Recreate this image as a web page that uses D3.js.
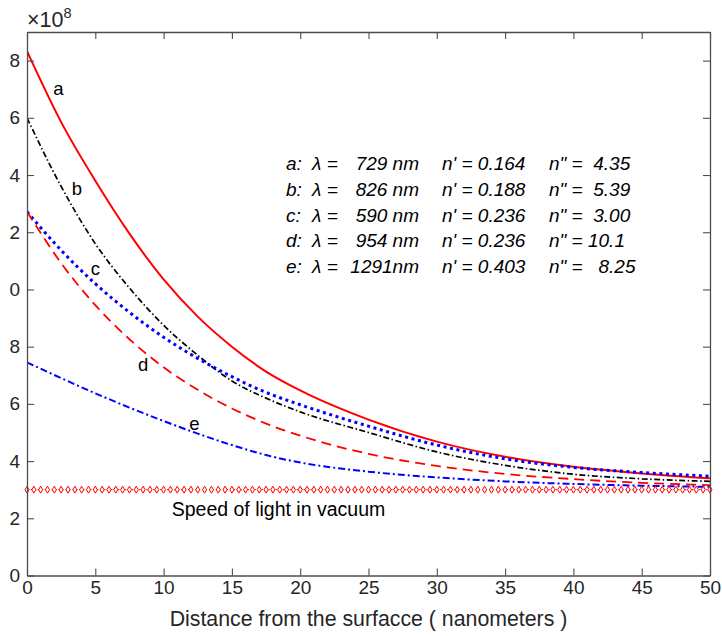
<!DOCTYPE html>
<html>
<head>
<meta charset="utf-8">
<script src="https://cdn.jsdelivr.net/npm/d3@7"></script>
<style>
  html, body { margin: 0; padding: 0; background: #fff; }
  svg { display: block; font-family: "Liberation Sans", Arial, Helvetica, sans-serif; }
</style>
</head>
<body>
<svg id="chart" width="722" height="636"></svg>
<script>
// Distance from the surface (nm) at which each curve was sampled
const distance = [0, 2.5, 5, 7.5, 10, 12.5, 15, 17.5, 20, 25, 30, 35, 40, 45, 50];

// Speed (x 10^8 m/s) for each case
const speedA = [18.33, 15.85, 13.8, 11.95, 10.35, 9.05, 8.0, 7.13, 6.47, 5.45, 4.68, 4.15, 3.80, 3.57, 3.40];
const speedB = [16.0, 13.6, 11.6, 10.05, 8.75, 7.7, 6.8, 6.2, 5.72, 5.0, 4.32, 3.85, 3.54, 3.38, 3.29];
const speedC = [12.72, 11.37, 10.2, 9.2, 8.33, 7.59, 6.95, 6.4, 5.97, 5.22, 4.56, 4.08, 3.78, 3.60, 3.47];
const speedD = [12.72, 10.92, 9.45, 8.26, 7.28, 6.49, 5.84, 5.31, 4.89, 4.25, 3.83, 3.55, 3.37, 3.24, 3.16];
const speedE = [7.45, 6.9, 6.37, 5.87, 5.4, 4.96, 4.56, 4.21, 3.95, 3.63, 3.43, 3.29, 3.20, 3.14, 3.10];

// Speed of light in vacuum (x 10^8 m/s)
const vacuumSpeed = 3.0;

// Case parameters
const caseNames   = ["a", "b", "c", "d", "e"];
const wavelengths = ["729 nm", "826 nm", "590 nm", "954 nm", "1291nm"];
const nPrime      = ["0.164", "0.188", "0.236", "0.236", "0.403"];
const nDouble     = [" 4.35", " 5.39", " 3.00", "10.1", "  8.25"];

// Axis ticks
const xTicks = [0, 5, 10, 15, 20, 25, 30, 35, 40, 45, 50];
const yTicks = [0, 2, 4, 6, 8, 10, 12, 14, 16, 18];
const yTickLabels = ["0", "2", "4", "6", "8", "0", "2", "4", "6", "8"];

const svg = d3.select("#chart");
const margin = { left: 27, right: 12, top: 32, bottom: 60.5 };
const W = 722, H = 636;
const iw = W - margin.left - margin.right;
const ih = H - margin.top - margin.bottom;

const x = d3.scaleLinear().domain([0, 50]).range([0, iw]);
const y = d3.scaleLinear().domain([0, 19]).range([ih, 0]);

const g = svg.append("g").attr("transform", `translate(${margin.left},${margin.top})`);

const axisColor = "#4d4d4d";
const textColor = "#262626";

// Curves
const series = [
  { vals: speedA, color: "#ff0000", dash: null, width: 2 },
  { vals: speedB, color: "#000000", dash: "6,2.5,1.5,2.5", width: 1.7 },
  { vals: speedC, color: "#0000ff", dash: "3,3.6", width: 3 },
  { vals: speedD, color: "#ff0000", dash: "10,6", width: 1.8 },
  { vals: speedE, color: "#0000ff", dash: "7,3,2,3", width: 2 }
];

const line = d3.line()
  .x(d => x(d[0]))
  .y(d => y(d[1]))
  .curve(d3.curveMonotoneX);

g.append("clipPath").attr("id", "plotclip")
  .append("rect").attr("width", iw).attr("height", ih);

const plot = g.append("g").attr("clip-path", "url(#plotclip)");

series.forEach(s => {
  plot.append("path")
    .datum(distance.map((d, i) => [d, s.vals[i]]))
    .attr("d", line)
    .attr("fill", "none")
    .attr("stroke", s.color)
    .attr("stroke-width", s.width)
    .attr("stroke-dasharray", s.dash)
    .attr("stroke-linejoin", "round");
});

// Vacuum reference line with diamond markers
const vacuumX = d3.range(0, 50.001, 0.5);
plot.append("path")
  .datum(vacuumX.map(d => [d, vacuumSpeed]))
  .attr("d", d3.line().x(d => x(d[0])).y(d => y(d[1])))
  .attr("fill", "none")
  .attr("stroke", "#ff0000")
  .attr("stroke-width", 1)
  .attr("stroke-dasharray", "1.5,2");

g.append("g").selectAll("path")
  .data(vacuumX)
  .join("path")
  .attr("transform", d => `translate(${x(d)},${y(vacuumSpeed)})`)
  .attr("d", d3.symbol(d3.symbolDiamond, 14))
  .attr("fill", "#fff")
  .attr("stroke", "#ff0000")
  .attr("stroke-width", 1);

// Axes (box with inward ticks)
function styleAxis(sel) {
  sel.select(".domain").attr("stroke", axisColor).attr("stroke-width", 1.3);
  sel.selectAll(".tick line").attr("stroke", axisColor).attr("stroke-width", 1.1);
  sel.selectAll(".tick text").attr("fill", textColor).attr("font-size", 19)
    .attr("font-family", "Liberation Sans, Arial, sans-serif");
}

g.append("g").attr("transform", `translate(0,${ih})`)
  .call(d3.axisBottom(x).tickValues(xTicks).tickSizeInner(-7).tickSizeOuter(0).tickPadding(5))
  .call(styleAxis);

g.append("g")
  .call(d3.axisTop(x).tickValues(xTicks).tickSizeInner(-7).tickSizeOuter(0).tickFormat(""))
  .call(styleAxis);

g.append("g")
  .call(d3.axisLeft(y).tickValues(yTicks).tickSizeInner(-7).tickSizeOuter(0).tickPadding(7)
    .tickFormat((d, i) => yTickLabels[i]))
  .call(styleAxis);

g.append("g").attr("transform", `translate(${iw},0)`)
  .call(d3.axisRight(y).tickValues(yTicks).tickSizeInner(-7).tickSizeOuter(0).tickFormat(""))
  .call(styleAxis);

// Exponent label
const expo = svg.append("text")
  .attr("x", 27).attr("y", 27)
  .attr("fill", textColor)
  .attr("font-size", 21.5);
expo.append("tspan").text("\u00d710");
expo.append("tspan").attr("dy", -9).attr("font-size", 14.5).text("8");

// X axis title
svg.append("text")
  .attr("x", margin.left + iw / 2).attr("y", 626)
  .attr("text-anchor", "middle")
  .attr("fill", textColor)
  .attr("font-size", 21.3)
  .text("Distance from the surfacce ( nanometers )");

// Curve letters
const letterPos = [[2.3, 16.8], [3.65, 13.3], [5.0, 10.5], [8.5, 7.15], [12.25, 5.1]];
caseNames.forEach((n, i) => {
  g.append("text")
    .attr("x", x(letterPos[i][0])).attr("y", y(letterPos[i][1]))
    .attr("text-anchor", "middle")
    .attr("fill", "#000")
    .attr("font-size", 18.5)
    .text(n);
});

// Vacuum label
g.append("text")
  .attr("x", 171.7 - margin.left).attr("y", 516 - margin.top)
  .attr("fill", "#000")
  .attr("font-size", 19.5)
  .text("Speed of light in vacuum");

// Parameter table
const table = svg.append("g").attr("font-style", "italic").attr("font-size", 19).attr("fill", "#000");
caseNames.forEach((n, i) => {
  const by = 170 + i * 25.8;
  table.append("text").attr("x", 286).attr("y", by).text(n + ":");
  table.append("text").attr("x", 312).attr("y", by).text("\u03bb =");
  table.append("text").attr("x", 419).attr("y", by).attr("text-anchor", "end").text(wavelengths[i]);
  table.append("text").attr("x", 442).attr("y", by).text("n' = " + nPrime[i]);
  table.append("text").attr("x", 549).attr("y", by).style("white-space", "pre")
    .text('n" = ' + nDouble[i]);
});
</script>
</body>
</html>
